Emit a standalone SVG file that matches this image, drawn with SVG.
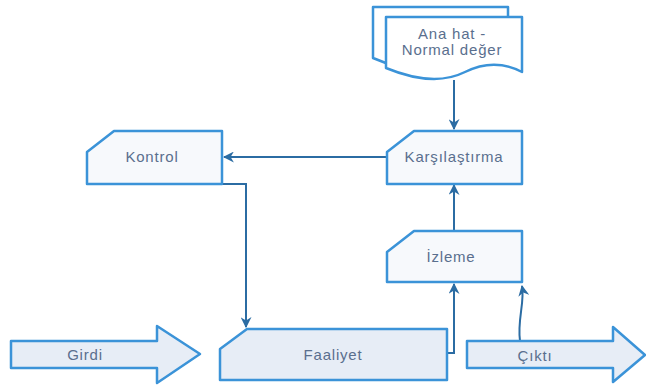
<svg xmlns="http://www.w3.org/2000/svg" width="646" height="385" viewBox="0 0 646 385">
  <defs>
    <marker id="arrow" viewBox="0 0 10 10" refX="9" refY="5" markerWidth="5.5" markerHeight="5.5" orient="auto-start-reverse" markerUnits="strokeWidth">
      <path d="M0,0 L10,5 L0,10 L3,5 Z" fill="#2b6ca3"/>
    </marker>
  </defs>
  <style>
    .shape { stroke: #3b93d8; stroke-width: 2.5; stroke-linejoin: round; }
    .box { fill: #f7f9fc; }
    .flow { fill: #e7edf6; }
    .doc { fill: #ffffff; }
    .label { font-family: "Liberation Sans", Arial, sans-serif; font-size: 15px; letter-spacing: 0.8px; fill: #5a6f8e; text-anchor: middle; dominant-baseline: central; }
    .edge { fill: none; stroke: #2b6ca3; stroke-width: 2; marker-end: url(#arrow); }
  </style>
  <rect width="646" height="385" fill="#ffffff"/>

  <g id="connectors">
    <path class="edge" d="M454,80 V129"/>
    <path class="edge" d="M387,157 H224"/>
    <path class="edge" d="M222,184 H246 V327"/>
    <path class="edge" d="M447,353 H454 V284"/>
    <path class="edge" d="M520,341 C517,320 525,302 522,286"/>
    <path class="edge" d="M454,231 V185"/>
  </g>

  <g id="ana-hat">
    <path class="shape doc" d="M373,7 H508 V62 C490,55 470,58 455,66 C440,74 410,74 373,58 Z"/>
    <path class="shape doc" d="M386,17 H522 V72 C505,63 485,62 465,72 C445,82 420,82 386,68 Z"/>
    <text class="label" x="452" y="33">Ana hat -</text>
    <text class="label" x="452" y="49">Normal değer</text>
  </g>

  <g id="kontrol">
    <path class="shape box" d="M114,131 H222 V184 H87 V152 Z"/>
    <text class="label" x="152" y="156">Kontrol</text>
  </g>

  <g id="karsilastirma">
    <path class="shape box" d="M414,131 H522 V184 H387 V152 Z"/>
    <text class="label" x="454" y="156">Karşılaştırma</text>
  </g>

  <g id="izleme">
    <path class="shape box" d="M414,231 H522 V282 H387 V252 Z"/>
    <text class="label" x="451" y="256">İzleme</text>
  </g>

  <g id="girdi">
    <path class="shape flow" d="M11,341 H157 V326 L200,354 L157,383 V368 H11 Z"/>
    <text class="label" x="85" y="354">Girdi</text>
  </g>

  <g id="faaliyet">
    <path class="shape flow" d="M247,329 H447 V380 H220 V349 Z"/>
    <text class="label" x="333" y="354">Faaliyet</text>
  </g>

  <g id="cikti">
    <path class="shape flow" d="M467,341 H613 V327 L645,355 L613,382 V368 H467 Z"/>
    <text class="label" x="535" y="355">Çıktı</text>
  </g>
</svg>
